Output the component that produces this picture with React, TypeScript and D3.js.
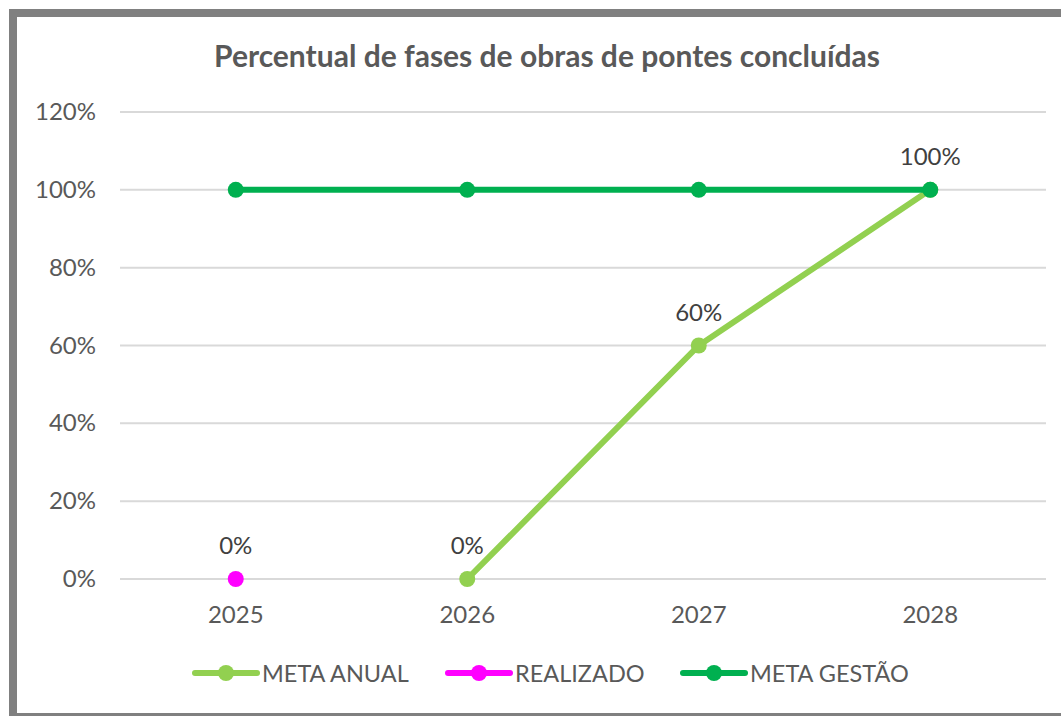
import React from "react";
import * as d3 from "d3";

const categories = ["2025", "2026", "2027", "2028"];
const metaAnual: (number | null)[] = [null, 0, 0.6, 1];
const realizado: (number | null)[] = [0, null, null, null];
const metaGestao: (number | null)[] = [1, 1, 1, 1];
const yTicks = [0, 0.2, 0.4, 0.6, 0.8, 1.0, 1.2];
const title = "Percentual de fases de obras de pontes concluídas";
const seriesNames = ["META ANUAL", "REALIZADO", "META GESTÃO"];
const seriesColors = ["#92D050", "#FF00FF", "#00B050"];
const labelsShown = [true, true, false];

const W = 1061;
const H = 716;
const FONT = "Lato, 'Open Sans', sans-serif";

export default function App() {
  const x = d3.scaleBand<string>().domain(categories).range([120, 1046]);
  const y = d3.scaleLinear().domain([0, 1.2]).range([579, 112]);
  const cx = (c: string) => (x(c) ?? 0) + x.bandwidth() / 2;
  const fmt = d3.format(".0%");

  const allSeries = [metaAnual, realizado, metaGestao];
  const pts = allSeries.map((s) =>
    s
      .map((v, i) => ({ c: categories[i], v }))
      .filter((d) => d.v !== null) as { c: string; v: number }[]
  );
  const line = d3
    .line<{ c: string; v: number }>()
    .x((d) => cx(d.c))
    .y((d) => y(d.v));

  const legendX = [195, 448, 683];

  return (
    <svg width={W} height={H} style={{ position: "absolute", left: 0, top: 0 }}>
      <rect x={0} y={0} width={W} height={H} fill="#ffffff" />
      {/* frame */}
      <rect x={9} y={9} width={W - 9} height={8} fill="#808080" />
      <rect x={9} y={9} width={8} height={H - 9} fill="#808080" />
      <rect x={9} y={713} width={W - 9} height={3} fill="#808080" />
      <text
        x={547}
        y={67}
        textAnchor="middle"
        fontFamily={FONT}
        fontWeight="bold"
        fontSize={30}
        fill="#595959"
      >
        {title}
      </text>
      {yTicks.map((t) => (
        <g key={t}>
          <line x1={120} x2={1046} y1={y(t)} y2={y(t)} stroke="#d9d9d9" strokeWidth={2} />
          <text
            x={96}
            y={y(t) + 8}
            textAnchor="end"
            fontFamily={FONT}
            fontSize={24}
            fill="#595959"
          >
            {fmt(t)}
          </text>
        </g>
      ))}
      {categories.map((c) => (
        <text
          key={c}
          x={cx(c)}
          y={623}
          textAnchor="middle"
          fontFamily={FONT}
          fontSize={24}
          fill="#595959"
        >
          {c}
        </text>
      ))}
      {pts.map((p, si) => (
        <g key={si}>
          {p.length > 1 && (
            <path
              d={line(p) ?? ""}
              fill="none"
              stroke={seriesColors[si]}
              strokeWidth={6}
              strokeLinecap="round"
            />
          )}
          {p.map((d) => (
            <circle key={d.c} cx={cx(d.c)} cy={y(d.v)} r={8} fill={seriesColors[si]} />
          ))}
        </g>
      ))}
      {pts.map((p, si) =>
        labelsShown[si]
          ? p.map((d) => (
              <text
                key={si + d.c}
                x={cx(d.c)}
                y={y(d.v) - 25}
                textAnchor="middle"
                fontFamily={FONT}
                fontSize={24}
                fill="#404040"
              >
                {fmt(d.v)}
              </text>
            ))
          : null
      )}
      {seriesNames.map((n, i) => (
        <g key={n}>
          <line
            x1={legendX[i]}
            x2={legendX[i] + 62}
            y1={673}
            y2={673}
            stroke={seriesColors[i]}
            strokeWidth={6}
            strokeLinecap="round"
          />
          <circle cx={legendX[i] + 31} cy={673} r={8} fill={seriesColors[i]} />
          <text
            x={legendX[i] + 67}
            y={682}
            fontFamily={FONT}
            fontSize={23.5}
            fill="#595959"
          >
            {n}
          </text>
        </g>
      ))}
    </svg>
  );
}
